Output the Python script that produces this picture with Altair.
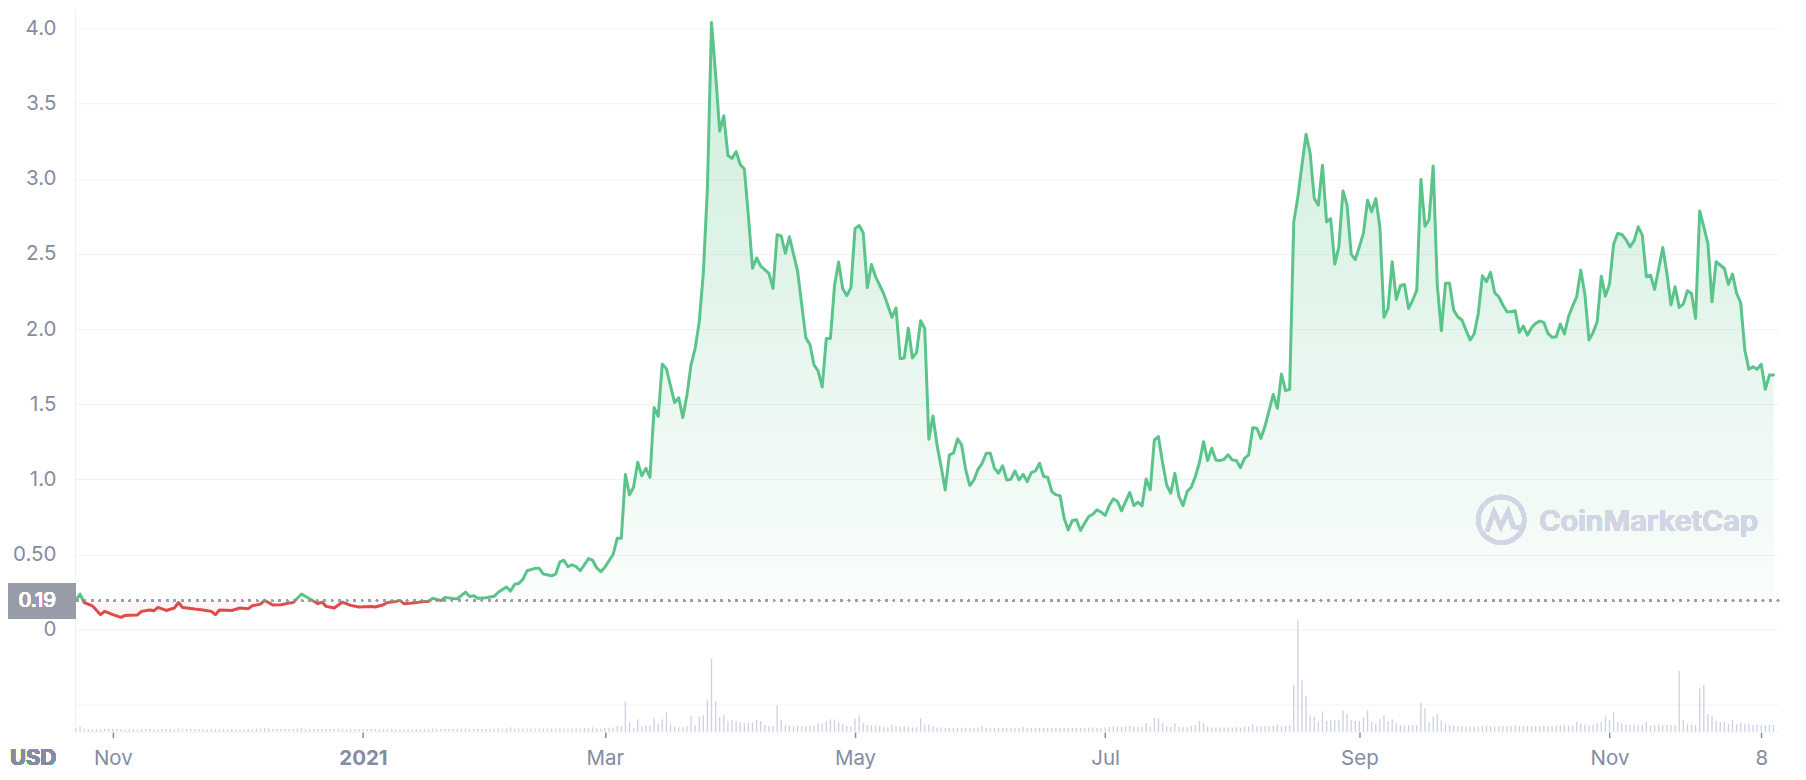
import altair as alt
import pandas as pd

# ---------------- data ----------------
# price: day offset from 2020-11-01, close price in USD
price_day = [
    -9, -8, -7, -5, -3, -2, 0, 2, 3, 6,
    7, 9, 10, 11, 13, 15, 16, 17, 20, 22,
    24, 25, 26, 29, 31, 33, 34, 36, 37, 39,
    41, 43, 44, 46, 48, 50, 51, 52, 54, 56,
    58, 60, 63, 64, 66, 67, 69, 70, 71, 73,
    76, 77, 78, 80, 81, 83, 84, 86, 87, 88,
    89, 91, 93, 94, 96, 97, 98, 99, 100, 101,
    103, 104, 105, 107, 108, 109, 110, 111, 112, 113,
    114, 116, 117, 118, 119, 120, 122, 123, 124, 125,
    126, 127, 128, 129, 130, 131, 132, 133, 134, 135,
    137, 138, 139, 140, 141, 142, 143, 144, 145, 146,
    147, 148, 149, 150, 151, 152, 153, 154, 155, 156,
    157, 158, 160, 161, 162, 163, 164, 165, 167, 169,
    170, 171, 172, 173, 174, 175, 176, 177, 178, 179,
    180, 181, 182, 183, 184, 185, 186, 188, 190, 191,
    192, 193, 194, 195, 196, 197, 198,
    199, 200, 201, 202, 203, 204, 205, 206, 207, 208,
    209, 210, 211, 212, 213, 214, 215, 216, 217, 218,
    219, 220, 221, 222, 223, 224, 225, 226, 227, 228,
    229, 230, 231, 232, 233, 234, 235, 236, 237, 238,
    239, 240, 241, 242, 243, 244, 245, 246, 247, 248,
    249, 250, 251, 252, 253, 254, 255, 256, 257, 258,
    259, 260, 261, 262, 263, 264, 265, 266, 267, 268,
    269, 270, 271, 272, 273, 274, 275, 276, 277, 278,
    279, 280, 281, 282, 283, 284, 285, 286, 287, 288,
    289, 290, 291, 292, 293, 294, 295, 296, 297, 298,
    299, 300, 301, 302, 303, 304, 305, 306, 307, 308,
    309, 310, 311, 312, 313, 314, 315, 316, 317, 318,
    319, 320, 321, 322, 323, 324, 325, 326, 327, 328,
    329, 330, 331, 332, 333, 334, 335, 336, 337, 338,
    339, 340, 341, 342, 343, 344, 345, 346, 347, 348,
    349, 350, 351, 352, 353, 354, 355, 356, 357, 358,
    359, 360, 361, 362, 363, 364, 365, 366, 367, 368,
    369, 370, 371, 372, 373, 374, 375, 376, 377, 378,
    379, 380, 381, 382, 383, 384, 385, 386, 387, 388,
    389, 390, 391, 392, 393, 394, 395, 396, 397, 398,
    399, 400, 401, 402, 403, 404, 405,
]
price_usd = [
    0.199, 0.237, 0.181, 0.159, 0.100, 0.122, 0.100, 0.082, 0.095, 0.098,
    0.122, 0.131, 0.126, 0.148, 0.128, 0.144, 0.181, 0.148, 0.137, 0.131,
    0.122, 0.100, 0.131, 0.128, 0.144, 0.140, 0.159, 0.170, 0.195, 0.164,
    0.166, 0.177, 0.181, 0.237, 0.206, 0.173, 0.184, 0.155, 0.144, 0.184,
    0.162, 0.151, 0.155, 0.151, 0.166, 0.181, 0.188, 0.195, 0.173, 0.177,
    0.188, 0.188, 0.210, 0.193, 0.215, 0.208, 0.206, 0.250, 0.221, 0.226,
    0.210, 0.212, 0.222, 0.249, 0.284, 0.257, 0.303, 0.308, 0.335, 0.392,
    0.408, 0.408, 0.370, 0.359, 0.370, 0.451, 0.462, 0.419, 0.432, 0.419,
    0.392, 0.473, 0.462, 0.411, 0.386, 0.416, 0.500, 0.608, 0.608, 1.032,
    0.897, 0.949, 1.114, 1.024, 1.073, 1.014, 1.478, 1.419, 1.768, 1.735,
    1.511, 1.543, 1.411, 1.559, 1.762, 1.870, 2.046, 2.370, 2.938, 4.040,
    3.695, 3.316, 3.419, 3.154, 3.135, 3.181, 3.095, 3.065, 2.749, 2.405,
    2.473, 2.419, 2.370, 2.270, 2.627, 2.619, 2.505, 2.614, 2.384, 1.943,
    1.897, 1.762, 1.722, 1.614, 1.938, 1.938, 2.289, 2.446, 2.268, 2.222,
    2.276, 2.668, 2.689, 2.641, 2.276, 2.430, 2.349, 2.235, 2.078, 2.141,
    1.803, 1.808, 2.005, 1.808, 1.843, 2.055, 2.004,
    1.267, 1.422, 1.229, 1.085, 0.930, 1.163, 1.174, 1.269, 1.229, 1.063,
    0.959, 0.996, 1.067, 1.107, 1.174, 1.174, 1.074, 1.041, 1.091, 0.996,
    1.001, 1.056, 0.996, 1.034, 0.985, 1.045, 1.056, 1.107, 1.019, 1.014,
    0.919, 0.897, 0.892, 0.742, 0.664, 0.727, 0.731, 0.660, 0.709, 0.753,
    0.768, 0.797, 0.782, 0.760, 0.826, 0.871, 0.853, 0.791, 0.853, 0.913,
    0.826, 0.848, 0.824, 1.003, 0.930, 1.262, 1.284, 1.112, 0.963, 0.908,
    1.041, 0.886, 0.826, 0.919, 0.948, 1.019, 1.112, 1.251, 1.125, 1.207,
    1.129, 1.125, 1.134, 1.163, 1.129, 1.125, 1.078, 1.140, 1.163, 1.344,
    1.340, 1.273, 1.355, 1.461, 1.565, 1.472, 1.701, 1.590, 1.599, 2.713,
    2.879, 3.090, 3.296, 3.167, 2.868, 2.824, 3.090, 2.713, 2.735, 2.432,
    2.547, 2.919, 2.824, 2.498, 2.463, 2.547, 2.640, 2.857, 2.780, 2.868,
    2.680, 2.078, 2.137, 2.448, 2.197, 2.288, 2.297, 2.137, 2.192, 2.259,
    2.995, 2.684, 2.729, 3.085, 2.293, 1.989, 2.304, 2.304, 2.126, 2.082,
    2.060, 1.993, 1.927, 1.967, 2.104, 2.354, 2.315, 2.377, 2.242, 2.215,
    2.160, 2.115, 2.115, 2.122, 1.978, 2.020, 1.960, 2.009, 2.038, 2.053,
    2.044, 1.971, 1.945, 1.949, 2.033, 1.967, 2.082, 2.153, 2.215, 2.392,
    2.230, 1.927, 1.978, 2.049, 2.352, 2.219, 2.299, 2.565, 2.636, 2.629,
    2.596, 2.547, 2.587, 2.680, 2.625, 2.348, 2.359, 2.264, 2.403, 2.543,
    2.370, 2.160, 2.282, 2.144, 2.166, 2.255, 2.237, 2.071, 2.786, 2.680,
    2.569, 2.181, 2.448, 2.426, 2.403, 2.297, 2.366, 2.237, 2.175, 1.860,
    1.732, 1.750, 1.732, 1.766, 1.599, 1.694, 1.694,
]

# daily volume (arbitrary units), first bar on day -9
volume_first_day = -9
volume = [
    3, 5, 3, 2.5, 2.5, 2.5, 2.5, 2.5, 2.5, 2.5,
    2.5, 2.5, 2, 2.5, 2.5, 2, 2.5, 2.5, 2.5, 2,
    2.5, 2.5, 2.5, 2.5, 2.5, 3, 2.5, 2.5, 2.5, 2.5,
    2.5, 2.5, 2, 2.5, 2.5, 2.5, 2.5, 2.5, 2.5, 2.5,
    2.5, 2.5, 2.5, 2.5, 3, 3, 3.5, 3, 2.5, 2.5,
    2.5, 2.5, 2.5, 2.5, 3, 3.5, 3, 2.5, 2.5, 2.5,
    2.5, 2.5, 2.5, 2.5, 2.5, 3, 2.5, 2.5, 2.5, 2.5,
    2.5, 2.5, 2.5, 2.5, 2.5, 2.5, 2.5, 3, 2.5, 2.5,
    2.5, 2.5, 2.5, 2.5, 2.5, 2.5, 2.5, 3, 2.5, 2.5,
    2.5, 2.5, 2.5, 2.5, 3, 3, 2.5, 2.5, 2.5, 2.5,
    2.5, 3, 2.5, 3, 3, 3, 4.3, 3, 3, 3,
    3, 3, 3, 3, 3, 3, 3, 3, 3, 3,
    3, 3, 3, 3, 3.5, 3.5, 4.3, 3, 3, 3.5,
    3.5, 4, 5.7, 5.7, 30, 9.7, 3.7, 12.3, 5.7, 6.3,
    6.3, 13.3, 7.3, 12.3, 19.7, 7.3, 5, 4, 4.3, 5.7,
    15.3, 6.3, 15.3, 16.3, 31.3, 73.3, 30.7, 14.7, 16.3, 10.7,
    11.7, 10.7, 9.7, 8.3, 9, 9, 11.7, 10.7, 6.3, 5.7,
    5.7, 26.3, 11.7, 6.7, 6.3, 5.7, 6.3, 5.7, 5.7, 6.3,
    5.7, 8.3, 8, 10.7, 12.3, 12.3, 9.7, 7.3, 5.7, 5,
    13.3, 16.3, 8.3, 7, 6.3, 6.3, 5.7, 5, 4.3, 7,
    5.7, 5, 5, 5, 4.3, 4.5, 13.3, 7, 7, 5,
    4, 4, 3.7, 3.7, 3.7, 3.7, 3.7, 4, 3.7, 3.7,
    4, 5.7, 4, 3.7, 3.7, 3.7, 3.7, 3.7, 3.7, 3.7,
    3.7, 4.7, 3.7, 3.7, 3.7, 3.7, 3.7, 3.7, 3.7, 3.7,
    3.7, 3.7, 3.7, 3.7, 3.7, 3.7, 3.7, 4, 4, 3.7,
    3.7, 4, 4.5, 5, 5, 4.5, 5, 6.3, 5, 4.5,
    4.5, 8.3, 5, 14, 13.3, 8.3, 5.7, 4.5, 8.3, 4.5,
    4.7, 4.5, 5.7, 6.3, 10.7, 8.3, 5, 4, 4, 4,
    4, 4, 4, 4.5, 4, 5, 5, 7.3, 5, 5,
    6, 5, 6, 7, 5, 6, 7, 46.7, 112.3, 51.3,
    35.7, 16.3, 15, 10, 20.3, 10.7, 11.7, 11.7, 11.7, 21.3,
    17.3, 11.7, 10.7, 10.7, 13.7, 21.3, 9.7, 8.3, 12.3, 16.3,
    10.7, 12.3, 8.3, 6.7, 6.3, 6.3, 6.3, 6.3, 28.7, 23.3,
    9.7, 15, 17.3, 11.3, 8.3, 6.7, 6, 5, 5.5, 5,
    5, 5, 5, 6, 6, 5.5, 5, 6, 6, 5.5,
    6, 6.5, 5.5, 5.5, 5.5, 5.5, 5.5, 6, 6, 5.5,
    6, 6, 6.5, 6.5, 6, 6, 9.7, 8.3, 7, 6.5,
    7, 8.3, 10, 15, 11.7, 19.7, 9.7, 8.3, 7.3, 6.7,
    7, 6.3, 7, 9.7, 6.3, 6.3, 7, 6.3, 7, 6.7,
    6.3, 60.7, 11.7, 7.3, 7, 6.7, 43.3, 46.7, 17.3, 15.7,
    10.7, 9.7, 9.7, 7.7, 11.7, 7.3, 9, 7.3, 8, 6.7,
    7.3, 6.7, 6.3, 6.7, 6.7,
]

baseline_price = 0.193          # dotted reference line, shown as "0.19"
y_tick_values = [-0.5, 0, 0.5, 1.0, 1.5, 2.0, 2.5, 3.0, 3.5, 4.0]
x_tick_dates = [(2020, 11, 1), (2021, 1, 1), (2021, 3, 1), (2021, 5, 1),
                (2021, 7, 1), (2021, 9, 1), (2021, 11, 1), (2021, 12, 8)]

# ---------------- tables ----------------
assert len(price_day) == len(price_usd)
origin = pd.Timestamp("2020-11-01")
price_df = pd.DataFrame({
    "date": [(origin + pd.Timedelta(days=d)).strftime("%Y-%m-%d") for d in price_day],
    "price": price_usd,
})
price_df["base"] = baseline_price
vol_df = pd.DataFrame({
    "date": [(origin + pd.Timedelta(days=volume_first_day + i)).strftime("%Y-%m-%d")
             for i in range(len(volume))],
    "volume": volume,
})
vol_df["zero"] = 0

# ---------------- style ----------------
FONT = "Inter"
GRAY = "#858ca2"
GRID = "#eff2f5"
GREEN = "#5bc48a"
RED = "#df4b4b"

W, H = 1705, 724
price_scale = alt.Scale(domain=[-0.678, 4.133], nice=False, zero=False)
vol_scale = alt.Scale(domain=[0, 724], nice=False, zero=True)
x_scale = alt.Scale(
    type="utc",
    domain=[alt.DateTime(year=2020, month=10, date=22, hours=18, utc=True),
            alt.DateTime(year=2021, month=12, date=12, hours=2, minutes=24, utc=True)],
)

x_axis = alt.Axis(
    values=[alt.DateTime(year=y, month=m, date=d, utc=True) for y, m, d in x_tick_dates],
    labelExpr=("utcmonth(datum.value)==0 ? utcFormat(datum.value,'%Y') : "
               "(utcmonth(datum.value)==11 ? utcFormat(datum.value,'%-d') : utcFormat(datum.value,'%b'))"),
    title=None, grid=False, domain=True, domainColor=GRID, domainWidth=1,
    ticks=True, tickColor=GRAY, tickSize=6, tickWidth=1.5,
    labelFont=FONT, labelFontSize=20.5, labelColor=GRAY, labelPadding=11,
    labelFontWeight={"condition": {"test": "utcmonth(datum.value)==0", "value": "bold"},
                     "value": "normal"},
    labelFlush=False, labelOverlap=False,
)
y_axis = alt.Axis(
    values=y_tick_values,
    labelExpr=("datum.value < 0 ? '' : (datum.value == 0 ? '0' : "
               "(datum.value == 0.5 ? '0.50' : format(datum.value, '.1f')))"),
    title=None, grid=True, gridColor=GRID, gridWidth=1,
    domain=True, domainColor=GRID, domainWidth=1, ticks=False, tickSize=0,
    labelFont=FONT, labelFontSize=20.5, labelColor=GRAY, labelPadding=19,
)

x_enc = alt.X("date:T", scale=x_scale, axis=x_axis)

pmax, pmin = max(price_usd), min(price_usd)
off = (pmax - baseline_price) / (pmax - pmin)

area_fill = alt.Gradient(
    gradient="linear", x1=0, y1=0, x2=0, y2=1,
    stops=[
        alt.GradientStop(color="rgba(91,196,138,0.30)", offset=0),
        alt.GradientStop(color="rgba(91,196,138,0.03)", offset=off),
        alt.GradientStop(color="rgba(223,75,75,0.03)", offset=off),
        alt.GradientStop(color="rgba(223,75,75,0.10)", offset=1),
    ],
)
line_stroke = alt.Gradient(
    gradient="linear", x1=0, y1=0, x2=0, y2=1,
    stops=[
        alt.GradientStop(color=GREEN, offset=0),
        alt.GradientStop(color=GREEN, offset=max(off - 0.004, 0)),
        alt.GradientStop(color=RED, offset=min(off + 0.004, 1)),
        alt.GradientStop(color=RED, offset=1),
    ],
)

# ---------------- layers ----------------
vol_layer = alt.Chart(vol_df).mark_rule(color="#cbd1e0", strokeWidth=1.3).encode(
    x=x_enc,
    y=alt.Y("volume:Q", scale=vol_scale, axis=None),
    y2="zero:Q",
)

area = alt.Chart(price_df).mark_area(fill=area_fill, interpolate="linear").encode(
    x=x_enc,
    y=alt.Y("price:Q", scale=price_scale, axis=y_axis),
    y2="base:Q",
)

dotted = alt.Chart(price_df).mark_rule(
    color="#9ba0ab", strokeWidth=2.2, strokeDash=[0.1, 7.4], strokeCap="round"
).encode(y=alt.YDatum(baseline_price, scale=price_scale, axis=y_axis))

line = alt.Chart(price_df).mark_line(
    stroke=line_stroke, strokeWidth=3.0, strokeJoin="round", strokeCap="round",
    interpolate="linear",
).encode(
    x=x_enc,
    y=alt.Y("price:Q", scale=price_scale, axis=y_axis),
)

box_shape = "M -1 -0.515 L 1 -0.515 L 1 0.515 L -1 0.515 Z"
label_box = alt.Chart(price_df).mark_point(
    shape=box_shape, filled=True, size=68 * 68, color="#979ca8", opacity=1
).encode(
    x=alt.value(-33),
    y=alt.YDatum(baseline_price, scale=price_scale, axis=y_axis),
)
label_text = alt.Chart(price_df).mark_text(
    text=f"{baseline_price:.2f}", font=FONT, fontSize=20.5, color="white",
    align="right", baseline="middle",
).encode(
    x=alt.value(-19),
    y=alt.YDatum(baseline_price, scale=price_scale, axis=y_axis),
)

logo_path = ("M 1 0 A 1 1 0 1 1 -1 0 A 1 1 0 1 1 1 0 "
             "M -0.62 0.5 L -0.32 -0.35 L -0.02 0.3 L 0.3 -0.38 L 0.52 0.3 L 0.9 0.35")
logo = alt.Chart(price_df).mark_point(
    shape=logo_path, filled=False, size=46 * 46, color="#d2d6e4",
    strokeWidth=4.2, opacity=1,
).encode(x=alt.value(1428), y=alt.value(512))
brand = alt.Chart(price_df).mark_text(
    text="CoinMarketCap", font=FONT, fontSize=29, fontWeight=600, color="#d2d6e4",
    align="left", baseline="alphabetic",
).encode(x=alt.value(1466), y=alt.value(523))

usd = alt.Chart(price_df).mark_text(
    text="USD", font=FONT, fontSize=22, fontWeight="bold", color=GRAY,
    align="left", baseline="alphabetic",
).encode(x=alt.value(-65), y=alt.value(757))

price_group = alt.layer(area, dotted, line, label_box, label_text, logo, brand, usd)

chart = alt.layer(vol_layer, price_group).resolve_scale(y="independent").properties(
    width=W, height=H,
    autosize=alt.AutoSizeParams(type="none"),
    padding={"left": 67, "top": 0, "right": 20, "bottom": 40},
    background="white",
).configure_view(stroke=None)

chart.save("out.html", embed_options={"renderer": "svg", "actions": False})
